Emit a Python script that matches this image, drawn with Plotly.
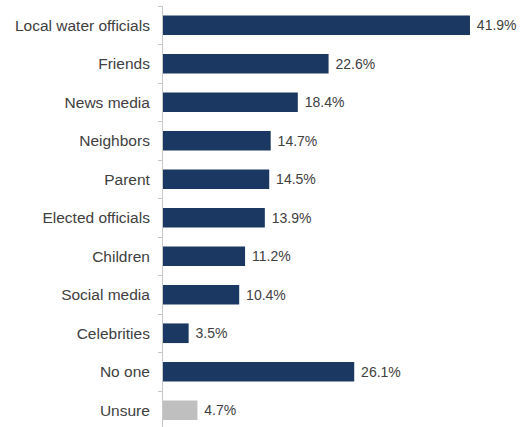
import plotly.graph_objects as go

# Survey responses: who people would turn to (share of respondents, %)
categories = [
    "Local water officials", "Friends", "News media", "Neighbors", "Parent",
    "Elected officials", "Children", "Social media", "Celebrities", "No one", "Unsure",
]
values = [41.9, 22.6, 18.4, 14.7, 14.5, 13.9, 11.2, 10.4, 3.5, 26.1, 4.7]
value_labels = ["41.9%", "22.6%", "18.4%", "14.7%", "14.5%", "13.9%",
                "11.2%", "10.4%", "3.5%", "26.1%", "4.7%"]

NAVY = "#1a3862"
GREY = "#bfbfbf"
bar_colors = [GREY if c == "Unsure" else NAVY for c in categories]

FONT = "Liberation Sans, Arial, sans-serif"

fig = go.Figure(
    go.Bar(
        x=values,
        y=categories,
        orientation="h",
        marker=dict(color=bar_colors, line=dict(width=0)),
        text=value_labels,
        texttemplate=" %{text}",
        textposition="outside",
        textfont=dict(family=FONT, size=14, color="#404040"),
        cliponaxis=False,
        hoverinfo="skip",
    )
)

fig.update_layout(
    width=522,
    height=427,
    margin=dict(l=163, r=0, t=6, b=0),
    paper_bgcolor="white",
    plot_bgcolor="white",
    bargap=0.49,
    showlegend=False,
    font=dict(family=FONT, size=12, color="#404040"),
)

fig.update_xaxes(
    range=[0, 49],
    visible=False,
    showgrid=False,
    zeroline=False,
)

fig.update_yaxes(
    type="category",
    categoryorder="array",
    categoryarray=categories,
    range=[len(categories) - 0.565, -0.5],
    showgrid=False,
    zeroline=False,
    showline=True,
    linecolor="#c8c8c8",
    linewidth=1,
    ticks="outside",
    tickson="boundaries",
    ticklen=4,
    tickcolor="#c8c8c8",
    ticklabelstandoff=9,
    tickfont=dict(family=FONT, size=15.5, color="#404040"),
)

fig.write_html("out.html")
